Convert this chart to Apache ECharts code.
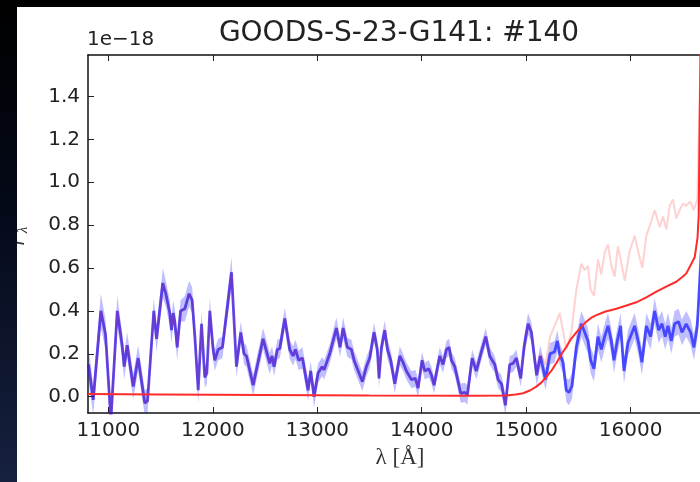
<!DOCTYPE html>
<html>
<head>
<meta charset="utf-8">
<script src="https://cdn.jsdelivr.net/npm/echarts@6/dist/echarts.min.js"></script>
<style>
html, body { margin: 0; padding: 0; background: #fff; }
#chart { width: 700px; height: 482px; }
</style>
</head>
<body>
<div id="chart"></div>
<script>
const title = 'GOODS-S-23-G141: #140'
const xTicks = [11000, 12000, 13000, 14000, 15000, 16000]
const yTicks = [0, 0.2, 0.4, 0.6, 0.8, 1.0, 1.2, 1.4]

// cleaned spectrum (units of 1e-18)
const wave = [
  10810, 10855, 10928, 10973, 11024, 11085, 11132, 11151, 11180, 11238,
  11285, 11349, 11375, 11435, 11461, 11521, 11550, 11588, 11604, 11620,
  11636, 11659, 11691, 11732, 11773, 11802, 11828, 11860, 11892, 11923,
  11943, 11971, 12003, 12019, 12051, 12092, 12179, 12226, 12267, 12299,
  12322, 12386, 12481, 12545, 12567, 12586, 12618, 12641, 12689, 12736,
  12768, 12791, 12822, 12858, 12912, 12937, 12969, 13008, 13046, 13065,
  13119, 13183, 13218, 13247, 13288, 13327, 13352, 13432, 13470, 13502,
  13543, 13575, 13591, 13614, 13646, 13672, 13703, 13742, 13790, 13821,
  13853, 13901, 13939, 13965, 14003, 14029, 14067, 14093, 14118, 14172,
  14204, 14236, 14262, 14284, 14316, 14373, 14412, 14437, 14482, 14523,
  14571, 14613, 14651, 14699, 14731, 14763, 14801, 14842, 14874, 14906,
  14948, 14979, 15018, 15050, 15082, 15100, 15135, 15185, 15228, 15272,
  15298, 15320, 15352, 15384, 15410, 15438, 15480, 15528, 15560, 15591,
  15617, 15649, 15687, 15719, 15751, 15783, 15815, 15840, 15872, 15904,
  15936, 15974, 16006, 16038, 16076, 16108, 16150, 16191, 16229, 16268,
  16300, 16331, 16357, 16389, 16421, 16459, 16491, 16532, 16574, 16606,
  16638, 16700
]
const flux = [
  0.15, -0.015, 0.40, 0.29, -0.11, 0.40, 0.24, 0.14, 0.24, 0.047,
  0.18, -0.03, -0.02, 0.40, 0.27, 0.53, 0.48, 0.39, 0.31, 0.39,
  0.35, 0.23, 0.40, 0.41, 0.48, 0.45, 0.28, 0.03, 0.34, 0.09,
  0.11, 0.40, 0.22, 0.17, 0.22, 0.23, 0.58, 0.14, 0.30, 0.20,
  0.19, 0.054, 0.27, 0.155, 0.19, 0.14, 0.22, 0.225, 0.365, 0.22,
  0.19, 0.22, 0.17, 0.18, 0.03, 0.12, 0.0, 0.11, 0.14, 0.125,
  0.20, 0.32, 0.23, 0.32, 0.23, 0.22, 0.17, 0.07, 0.14, 0.18,
  0.30, 0.22, 0.085, 0.23, 0.31, 0.22, 0.17, 0.06, 0.19, 0.16,
  0.12, 0.08, 0.085, 0.04, 0.17, 0.12, 0.13, 0.10, 0.054, 0.19,
  0.15, 0.22, 0.23, 0.17, 0.14, 0.016, 0.02, 0.008, 0.18, 0.12,
  0.21, 0.28, 0.19, 0.15, 0.08, 0.06, -0.04, 0.15, 0.155, 0.18,
  0.085, 0.23, 0.34, 0.30, 0.17, 0.10, 0.19, 0.08, 0.20, 0.21,
  0.26, 0.20, 0.16, 0.03, 0.02, 0.05, 0.23, 0.34, 0.30, 0.26,
  0.17, 0.13, 0.28, 0.22, 0.28, 0.33, 0.26, 0.17, 0.26, 0.33,
  0.12, 0.25, 0.29, 0.33, 0.25, 0.16, 0.33, 0.28, 0.40, 0.31,
  0.34, 0.28, 0.33, 0.26, 0.34, 0.35, 0.30, 0.34, 0.30, 0.23,
  0.33, 0.9
]
const fluxErr = [
  0.08, 0.07, 0.08, 0.07, 0.07, 0.07, 0.06, 0.06, 0.06, 0.06,
  0.06, 0.06, 0.06, 0.06, 0.06, 0.07, 0.06, 0.06, 0.06, 0.06,
  0.06, 0.06, 0.05, 0.06, 0.06, 0.06, 0.06, 0.06, 0.06, 0.05,
  0.05, 0.06, 0.05, 0.05, 0.05, 0.05, 0.07, 0.05, 0.05, 0.05,
  0.05, 0.05, 0.05, 0.05, 0.045, 0.045, 0.045, 0.045, 0.05, 0.045,
  0.045, 0.045, 0.045, 0.05, 0.05, 0.045, 0.05, 0.045, 0.045, 0.045,
  0.045, 0.05, 0.045, 0.05, 0.045, 0.045, 0.045, 0.045, 0.045, 0.045,
  0.045, 0.045, 0.045, 0.045, 0.045, 0.045, 0.045, 0.045, 0.045, 0.04,
  0.04, 0.04, 0.04, 0.045, 0.04, 0.04, 0.04, 0.04, 0.04, 0.04,
  0.04, 0.04, 0.04, 0.04, 0.04, 0.045, 0.045, 0.045, 0.04, 0.04,
  0.04, 0.04, 0.04, 0.04, 0.04, 0.04, 0.05, 0.04, 0.04, 0.04,
  0.04, 0.05, 0.05, 0.045, 0.045, 0.05, 0.05, 0.05, 0.05, 0.05,
  0.05, 0.05, 0.05, 0.055, 0.06, 0.06, 0.06, 0.06, 0.06, 0.06,
  0.06, 0.06, 0.06, 0.06, 0.06, 0.06, 0.06, 0.06, 0.06, 0.06,
  0.06, 0.06, 0.06, 0.06, 0.06, 0.06, 0.06, 0.06, 0.06, 0.06,
  0.06, 0.06, 0.06, 0.06, 0.06, 0.06, 0.06, 0.06, 0.06, 0.06,
  0.06, 0.08
]

// total flux where it departs from the cleaned spectrum (contaminated part)
const totalWave = [
  15135, 15185, 15228, 15272, 15320, 15352, 15384, 15432, 15480, 15528,
  15560, 15591, 15617, 15649, 15687, 15719, 15751, 15783, 15815, 15847,
  15878, 15904, 15943, 15991, 16039, 16070, 16112, 16150, 16198, 16230,
  16278, 16310, 16342, 16374, 16405, 16437, 16469, 16501, 16533, 16571,
  16603, 16638, 16700
]
const totalFlux = [
  0.20, 0.15, 0.28, 0.33, 0.39, 0.31, 0.22, 0.30, 0.50, 0.62,
  0.59, 0.61, 0.50, 0.47, 0.64, 0.57, 0.67, 0.71, 0.61, 0.56,
  0.70, 0.64, 0.54, 0.68, 0.75, 0.68, 0.60, 0.75, 0.82, 0.87,
  0.79, 0.84, 0.78, 0.89, 0.92, 0.83, 0.87, 0.90, 0.89, 0.91,
  0.87, 0.92, 2.2
]

// model
const modelWave = [
  10805, 11500, 12500, 13500, 14500, 14810, 14900, 14970, 15040, 15097,
  15150, 15193, 15240, 15289, 15340, 15385, 15430, 15480, 15530, 15576,
  15620, 15672, 15760, 15863, 15960, 16054, 16150, 16246, 16340, 16437,
  16500, 16533, 16581, 16613, 16640, 16651, 16700
]
const modelFlux = [
  0.012, 0.01, 0.008, 0.006, 0.005, 0.006, 0.01, 0.016, 0.03, 0.047,
  0.068, 0.093, 0.12, 0.157, 0.20, 0.233, 0.27, 0.30, 0.328, 0.35,
  0.367, 0.38, 0.397, 0.41, 0.425, 0.44, 0.463, 0.49, 0.513, 0.536,
  0.56, 0.575, 0.62, 0.65, 0.74, 0.84, 3.0
]

const pairs = (xs, ys) => xs.map((x, i) => [x, ys[i]])
const total = pairs(wave, flux).filter(p => p[0] < totalWave[0]).concat(pairs(totalWave, totalFlux))

const font = 'DejaVu Sans'
const ink = '#222'

function axisX(pos, labels) {
  return {
    type: 'value', position: pos, min: 10805, max: 16750,
    axisLine: { show: true, onZero: false, lineStyle: { color: '#111', width: 1.5 } },
    axisTick: { show: true, inside: true, length: 6, customValues: xTicks, lineStyle: { color: ink } },
    axisLabel: {
      show: labels, customValues: xTicks, fontSize: 20, fontFamily: font, color: ink, margin: 8,
      formatter: v => String(v)
    },
    splitLine: { show: false }
  }
}

// error band drawn as one polygon through the axis scales
function renderBand(params, api) {
  const top = wave.map((w, i) => api.coord([w, flux[i] + fluxErr[i]]))
  const bot = wave.map((w, i) => api.coord([w, flux[i] - fluxErr[i]])).reverse()
  return {
    type: 'polygon',
    shape: { points: top.concat(bot) },
    style: { fill: 'rgba(0,0,255,0.25)' }
  }
}

var myChart = echarts.init(document.getElementById('chart'))
myChart.setOption({
  animation: false,
  backgroundColor: '#fff',
  grid: { left: 88, top: 55, width: 621, height: 358, containLabel: false, outerBoundsMode: 'none' },
  xAxis: [axisX('bottom', true), axisX('top', false)],
  yAxis: {
    type: 'value', min: -0.076, max: 1.593,
    axisLine: { show: true, onZero: false, lineStyle: { color: '#111', width: 1.5 } },
    axisTick: { show: true, inside: true, length: 6, customValues: yTicks, lineStyle: { color: ink } },
    axisLabel: {
      customValues: yTicks, fontSize: 20, fontFamily: font, color: ink, margin: 8,
      formatter: v => v.toFixed(1)
    },
    splitLine: { show: false }
  },
  graphic: [
    {
      type: 'text', x: 399, y: 34, z: 10,
      style: { text: title, font: '28px "DejaVu Sans"', fill: ink, textAlign: 'center', textVerticalAlign: 'middle' }
    },
    {
      type: 'text', x: 87, y: 40, z: 10,
      style: { text: '1e\u221218', font: '20px "DejaVu Sans"', fill: ink, textAlign: 'left', textVerticalAlign: 'middle' }
    },
    {
      type: 'text', x: 400, y: 458, z: 10,
      style: { text: 'λ [Å]', font: '23px "Liberation Serif"', fill: '#333', textAlign: 'center', textVerticalAlign: 'middle' }
    },
    {
      type: 'text', x: 13, y: 242, z: 10, rotation: Math.PI / 2,
      style: { text: 'f', font: 'italic 22px "Liberation Serif"', fill: '#333', textAlign: 'center', textVerticalAlign: 'middle' }
    },
    {
      type: 'text', x: 23, y: 230, z: 10, rotation: Math.PI / 2,
      style: { text: 'λ', font: 'italic 15px "Liberation Serif"', fill: '#333', textAlign: 'center', textVerticalAlign: 'middle' }
    },
    {
      type: 'rect', z: 20, shape: { x: 0, y: 0, width: 17, height: 482 },
      style: {
        fill: new echarts.graphic.LinearGradient(0, 0, 0, 1, [
          { offset: 0, color: '#000000' },
          { offset: 0.45, color: '#050a1a' },
          { offset: 1, color: '#16213f' }
        ])
      }
    },
    { type: 'rect', z: 20, shape: { x: 0, y: 0, width: 700, height: 7 }, style: { fill: '#000' } }
  ],
  series: [
    {
      type: 'custom', renderItem: renderBand, clip: true, silent: true,
      data: [[wave[0], flux[0]]], encode: { x: 0, y: 1 }
    },
    {
      type: 'line', data: pairs(wave, flux), symbol: 'none',
      lineStyle: { color: 'rgba(20,20,255,0.7)', width: 2.8 }
    },
    {
      type: 'line', data: total, symbol: 'none',
      lineStyle: { color: 'rgba(255,0,0,0.18)', width: 2 }
    },
    {
      type: 'line', data: pairs(modelWave, modelFlux), symbol: 'none',
      lineStyle: { color: '#ff2a2a', width: 2 }
    }
  ]
})
</script>
</body>
</html>
